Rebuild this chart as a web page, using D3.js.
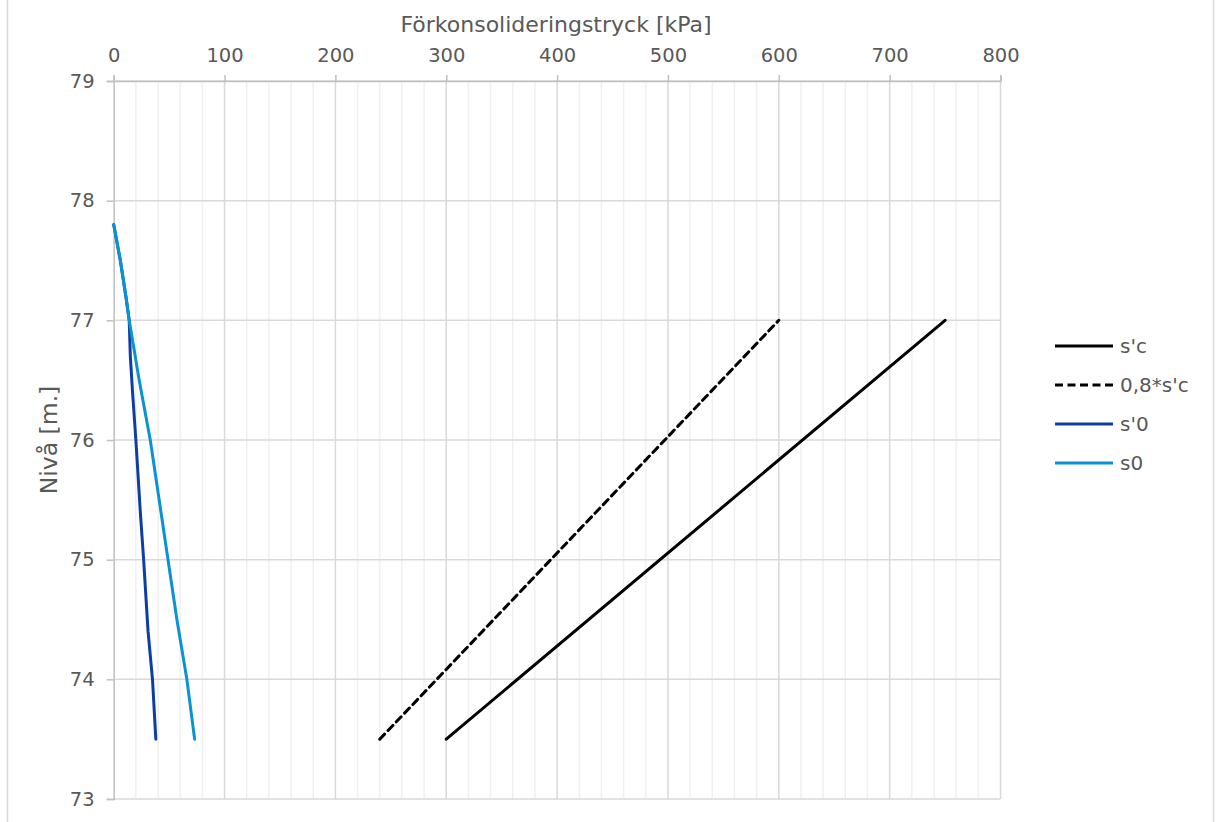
<!DOCTYPE html>
<html>
  <head>
    <script src="https://cdnjs.cloudflare.com/ajax/libs/d3/7.8.5/d3.min.js" charset="utf-8"></script>
    <style type="text/css">
      body {
        margin: 0;
        background: #fff;
        font-family: "DejaVu Sans", Verdana, sans-serif;
      }
      text { fill: #595959; }
    </style>
  </head>
  <body>
    <script type="text/javascript">
      var w = 1219, h = 822,
          margin = { top: 81, right: 218.5, bottom: 23, left: 113.7 };

      // data: [pressure kPa, level m]
      var sc      = [[300, 73.5], [750, 77]];
      var sc08    = [[240, 73.5], [600, 77]];
      var sPrime0 = [[0, 77.8], [6, 77.5], [11, 77.2], [14, 77], [15, 76.7], [17, 76.4], [20, 76],
                     [24, 75.4], [27, 75], [31, 74.4], [35, 74], [38, 73.5]];
      var s0      = [[0, 77.8], [6, 77.5], [11, 77.2], [14, 77], [23, 76.5], [33, 76], [41, 75.5],
                     [49, 75], [57, 74.5], [66, 74], [73, 73.5]];

      var xTicks = [0, 100, 200, 300, 400, 500, 600, 700, 800];
      var xMinor = d3.range(0, 801, 20);
      var yTicks = [73, 74, 75, 76, 77, 78, 79];

      var series = [
        { name: "s'c", data: sc, color: "#000000", dash: null },
        { name: "0,8*s'c", data: sc08, color: "#000000", dash: "7,5" },
        { name: "s'0", data: sPrime0, color: "#0d3fa3", dash: null },
        { name: "s0", data: s0, color: "#0a93d3", dash: null }
      ];

      var svg = d3.select("body").append("svg")
          .attr("width", w)
          .attr("height", h);

      // chart frame (only sides visible)
      svg.append("line").attr("x1", 7.5).attr("x2", 7.5).attr("y1", 0).attr("y2", h)
         .attr("stroke", "#d9d9d9").attr("stroke-width", 1.5);
      svg.append("line").attr("x1", 1213.5).attr("x2", 1213.5).attr("y1", 0).attr("y2", h)
         .attr("stroke", "#d9d9d9").attr("stroke-width", 1.5);

      var xScale = d3.scaleLinear().domain([0, 800]).range([margin.left, w - margin.right]);
      var yScale = d3.scaleLinear().domain([73, 79]).range([h - margin.bottom, margin.top]);

      // minor vertical grid
      svg.append("g").selectAll("line")
         .data(xMinor.filter(function (d) { return d % 100 !== 0; }))
         .enter().append("line")
         .attr("x1", function (d) { return xScale(d); })
         .attr("x2", function (d) { return xScale(d); })
         .attr("y1", yScale(79)).attr("y2", yScale(73))
         .attr("stroke", "#f0f0f0").attr("stroke-width", 1.5);

      // major grid
      svg.append("g").selectAll("line")
         .data(xTicks.slice(1))
         .enter().append("line")
         .attr("x1", function (d) { return xScale(d); })
         .attr("x2", function (d) { return xScale(d); })
         .attr("y1", yScale(79)).attr("y2", yScale(73))
         .attr("stroke", "#d9d9d9").attr("stroke-width", 1.5);
      svg.append("g").selectAll("line")
         .data(yTicks)
         .enter().append("line")
         .attr("x1", xScale(0)).attr("x2", xScale(800))
         .attr("y1", function (d) { return yScale(d); })
         .attr("y2", function (d) { return yScale(d); })
         .attr("stroke", "#d9d9d9").attr("stroke-width", 1.5);

      // axes
      var xAxis = d3.axisTop(xScale).tickValues(xTicks).tickSize(6).tickPadding(13);
      var yAxis = d3.axisLeft(yScale).tickValues(yTicks).tickSize(7).tickPadding(12)
          .tickFormat(d3.format("d"));

      var gx = svg.append("g")
         .attr("transform", "translate(" + [0, margin.top] + ")")
         .call(xAxis);
      var gy = svg.append("g")
         .attr("transform", "translate(" + [margin.left, 0] + ")")
         .call(yAxis);

      [gx, gy].forEach(function (g) {
        g.select(".domain").attr("stroke", "#bfbfbf").attr("stroke-width", 1.5);
        g.selectAll(".tick line").attr("stroke", "#bfbfbf").attr("stroke-width", 1.5);
        g.selectAll(".tick text").attr("font-size", 19.5)
         .attr("font-family", "'DejaVu Sans', Verdana, sans-serif").attr("fill", "#595959");
      });
      gx.selectAll(".tick text").attr("dy", 0);

      // axis titles
      svg.append("text")
         .attr("x", 556).attr("y", 32)
         .attr("text-anchor", "middle")
         .attr("font-size", 22)
         .text("Förkonsolideringstryck [kPa]");
      svg.append("text")
         .attr("transform", "translate(57,440) rotate(-90)")
         .attr("text-anchor", "middle")
         .attr("font-size", 23.5)
         .text("Nivå [m.]");

      // lines
      var line = d3.line()
          .x(function (d) { return xScale(d[0]); })
          .y(function (d) { return yScale(d[1]); });

      svg.append("g").selectAll("path")
         .data(series)
         .enter().append("path")
         .attr("d", function (d) { return line(d.data); })
         .attr("fill", "none")
         .attr("stroke", function (d) { return d.color; })
         .attr("stroke-width", 3)
         .attr("stroke-dasharray", function (d) { return d.dash; })
         .attr("stroke-linecap", "round")
         .attr("stroke-linejoin", "round");

      // legend
      var legend = svg.append("g").selectAll("g")
         .data(series)
         .enter().append("g")
         .attr("transform", function (d, i) { return "translate(1055," + (346 + i * 39) + ")"; });
      legend.append("line")
         .attr("x1", 0).attr("x2", 58).attr("y1", 0).attr("y2", 0)
         .attr("stroke", function (d) { return d.color; })
         .attr("stroke-width", 3)
         .attr("stroke-dasharray", function (d) { return d.dash ? "8,4.5" : null; });
      legend.append("text")
         .attr("x", 65).attr("y", 7)
         .attr("font-size", 20)
         .text(function (d) { return d.name; });
    </script>
  </body>
</html>
